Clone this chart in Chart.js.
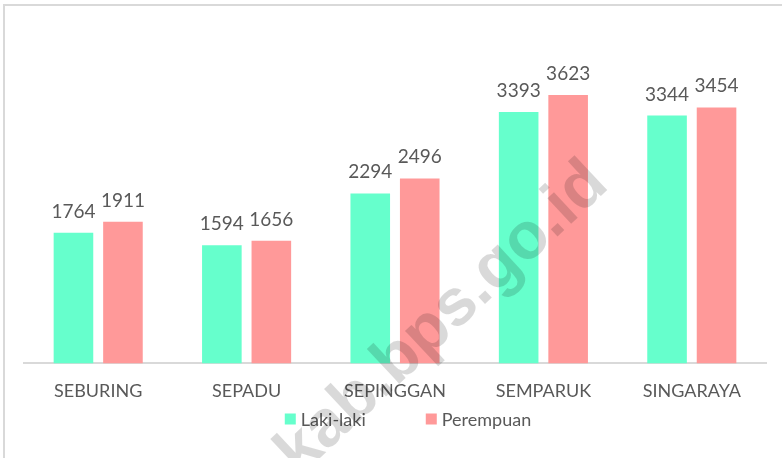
<!DOCTYPE html>
<html><head><meta charset="utf-8">
<script src="https://cdn.jsdelivr.net/npm/chart.js@4.4.0/dist/chart.umd.min.js"></script>
<style>html,body{margin:0;padding:0;background:#fff;} canvas{display:block;}</style>
</head><body><canvas id="c" width="782" height="458"></canvas>
<script>
const categories = ['SEBURING', 'SEPADU', 'SEPINGGAN', 'SEMPARUK', 'SINGARAYA'];
const seriesNames = ['Laki-laki', 'Perempuan'];
const lakiLaki = [1764, 1594, 2294, 3393, 3344];
const perempuan = [1911, 1656, 2496, 3623, 3454];
const watermarkText = 'kab.bps.go.id';

const TEXT = '#595959';
const FONT = 'Lato, "Open Sans", sans-serif';

const framePlugin = {
  id: 'frame',
  beforeDraw(chart) {
    const ctx = chart.ctx;
    ctx.save();
    ctx.fillStyle = '#fff';
    ctx.fillRect(0, 0, chart.width, chart.height);
    ctx.fillStyle = '#d9d9d9';
    ctx.fillRect(3, 4, chart.width - 3, 2);
    ctx.fillRect(3, 4, 2, chart.height - 4);
    ctx.restore();
  }
};

const valueLabels = {
  id: 'valueLabels',
  afterDatasetsDraw(chart) {
    const ctx = chart.ctx;
    ctx.save();
    ctx.font = '19px ' + FONT;
    ctx.fillStyle = TEXT;
    ctx.textAlign = 'center';
    ctx.textBaseline = 'alphabetic';
    chart.data.datasets.forEach((ds, i) => {
      chart.getDatasetMeta(i).data.forEach((bar, j) => {
        ctx.fillText(String(ds.data[j]), bar.x, bar.y - 15);
      });
    });
    ctx.restore();
  }
};

const customLegend = {
  id: 'customLegend',
  afterDraw(chart) {
    const ctx = chart.ctx;
    ctx.save();
    ctx.font = '18px ' + FONT;
    ctx.textBaseline = 'middle';
    ctx.textAlign = 'left';
    const box = 11, gapText = 5, gapItem = 60;
    const items = chart.data.datasets.map(ds => ({label: ds.label, color: ds.backgroundColor, w: ctx.measureText(ds.label).width}));
    let total = 0;
    items.forEach((it, k) => { total += box + gapText + it.w + (k < items.length - 1 ? gapItem : 0); });
    let x = 408 - total / 2;
    const y = 419;
    items.forEach(it => {
      ctx.fillStyle = it.color;
      ctx.fillRect(x, y - box / 2, box, box);
      x += box + gapText;
      ctx.fillStyle = TEXT;
      ctx.fillText(it.label, x, y + 1);
      x += it.w + gapItem;
    });
    ctx.restore();
  }
};

const watermark = {
  id: 'watermark',
  afterDraw(chart) {
    const ctx = chart.ctx;
    ctx.save();
    ctx.translate(455, 332);
    ctx.rotate(-43 * Math.PI / 180);
    ctx.font = 'bold 66px "Liberation Sans", Arial, sans-serif';
    ctx.fillStyle = 'rgba(0,0,0,0.15)';
    ctx.textAlign = 'center';
    ctx.textBaseline = 'alphabetic';
    ctx.fillText(watermarkText, 0, 0);
    ctx.restore();
  }
};

new Chart(document.getElementById('c'), {
  type: 'bar',
  data: {
    labels: categories,
    datasets: [
      {label: seriesNames[0], data: lakiLaki, backgroundColor: '#66FFCC'},
      {label: seriesNames[1], data: perempuan, backgroundColor: '#FF9999'}
    ]
  },
  options: {
    responsive: false,
    animation: false,
    devicePixelRatio: 1,
    layout: {padding: {left: 24, right: 16, top: 67, bottom: 39}},
    datasets: {bar: {categoryPercentage: 0.667, barPercentage: 0.8}},
    plugins: {legend: {display: false}, tooltip: {enabled: false}},
    scales: {
      x: {
        grid: {display: false, drawTicks: false},
        border: {display: true, color: '#d9d9d9', width: 2},
        ticks: {color: TEXT, font: {family: FONT, size: 18}, padding: 17}
      },
      y: {display: false, min: 0, max: 4000}
    }
  },
  plugins: [framePlugin, valueLabels, customLegend, watermark]
});
</script>
</body></html>
